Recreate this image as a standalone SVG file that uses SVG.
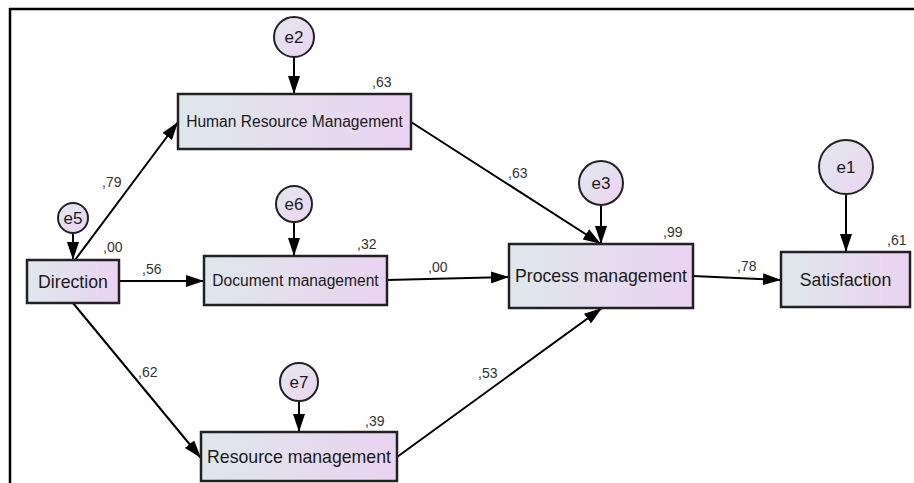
<svg xmlns="http://www.w3.org/2000/svg" width="914" height="483" viewBox="0 0 914 483">
<defs>
<linearGradient id="gBox" x1="0" y1="0" x2="1" y2="0">
<stop offset="0" stop-color="#dfe7eb"/>
<stop offset="1" stop-color="#ead3f1"/>
</linearGradient>
<linearGradient id="gCirc" x1="0" y1="0" x2="1" y2="1">
<stop offset="0" stop-color="#e2e8ee"/>
<stop offset="1" stop-color="#ecd3f1"/>
</linearGradient>
<marker id="arr" markerUnits="userSpaceOnUse" markerWidth="19" markerHeight="12" refX="18" refY="6" orient="auto">
<path d="M0,0 L18,6 L0,12 z" fill="#000"/>
</marker>
<style>
.box{fill:url(#gBox);stroke:#222;stroke-width:2.5}
.circ{fill:url(#gCirc);stroke:#222;stroke-width:2}
.lbl{font-family:"Liberation Sans",Arial,sans-serif;fill:#1a1a1a;text-anchor:middle}
.num{font-family:"Liberation Sans",Arial,sans-serif;font-size:14px;fill:#333}
.con{stroke:#000;stroke-width:2;fill:none;marker-end:url(#arr)}
</style>
</defs>
<rect width="914" height="483" fill="#fff"/>
<g id="frame" stroke="#000" stroke-width="2.5" fill="none">
<line x1="9" y1="9" x2="914" y2="9"/>
<line x1="10" y1="8" x2="10" y2="483"/>
</g>
<g id="connectors">
<line class="con" x1="294" y1="57" x2="294" y2="94"/>
<line class="con" x1="294" y1="222" x2="294" y2="256"/>
<line class="con" x1="299" y1="401" x2="299" y2="432"/>
<line class="con" x1="73" y1="233" x2="73" y2="260"/>
<line class="con" x1="601" y1="205" x2="601" y2="244"/>
<line class="con" x1="846" y1="195" x2="846" y2="252"/>
<line class="con" x1="75" y1="260" x2="178" y2="122"/>
<line class="con" x1="119" y1="281" x2="204" y2="281"/>
<line class="con" x1="73" y1="303" x2="201" y2="458"/>
<line class="con" x1="411" y1="122" x2="601" y2="244"/>
<line class="con" x1="387" y1="280" x2="509" y2="277"/>
<line class="con" x1="397" y1="457" x2="602" y2="308"/>
<line class="con" x1="693" y1="276" x2="781" y2="280"/>
</g>
<g id="e2"><circle class="circ" cx="294" cy="37" r="20"/><text class="lbl" x="294" y="43" font-size="17">e2</text></g>
<g id="e6"><circle class="circ" cx="294" cy="204" r="18"/><text class="lbl" x="294" y="210" font-size="17">e6</text></g>
<g id="e7"><circle class="circ" cx="299" cy="382" r="19"/><text class="lbl" x="299" y="388" font-size="17">e7</text></g>
<g id="e5"><circle class="circ" cx="73" cy="218" r="15"/><text class="lbl" x="73" y="224" font-size="17">e5</text></g>
<g id="e3"><circle class="circ" cx="601" cy="183" r="22"/><text class="lbl" x="601" y="189" font-size="17">e3</text></g>
<g id="e1"><circle class="circ" cx="846" cy="167" r="27"/><text class="lbl" x="846" y="173" font-size="17">e1</text></g>
<g id="hrm"><rect class="box" x="178" y="94" width="233" height="55"/><text class="lbl" x="294.5" y="127" font-size="15.6">Human Resource Management</text></g>
<g id="direction"><rect class="box" x="27" y="260" width="92" height="43"/><text class="lbl" x="73" y="288" font-size="17.7">Direction</text></g>
<g id="doc"><rect class="box" x="204" y="256" width="183" height="49"/><text class="lbl" x="295.5" y="286" font-size="15.6">Document management</text></g>
<g id="res"><rect class="box" x="201" y="432" width="196" height="49"/><text class="lbl" x="299" y="463" font-size="17.7">Resource management</text></g>
<g id="proc"><rect class="box" x="509" y="244" width="184" height="64"/><text class="lbl" x="601" y="282" font-size="17.7">Process management</text></g>
<g id="sat"><rect class="box" x="781" y="252" width="129" height="55"/><text class="lbl" x="845.5" y="286" font-size="17.7">Satisfaction</text></g>
<g id="labels">
<text class="num" x="372" y="87">,63</text>
<text class="num" x="102" y="187">,79</text>
<text class="num" x="103" y="252">,00</text>
<text class="num" x="142" y="274">,56</text>
<text class="num" x="357" y="249">,32</text>
<text class="num" x="428" y="272">,00</text>
<text class="num" x="138" y="377">,62</text>
<text class="num" x="365" y="426">,39</text>
<text class="num" x="508" y="178">,63</text>
<text class="num" x="663" y="237">,99</text>
<text class="num" x="887" y="245">,61</text>
<text class="num" x="737" y="271">,78</text>
<text class="num" x="478" y="378">,53</text>
</g>
</svg>
